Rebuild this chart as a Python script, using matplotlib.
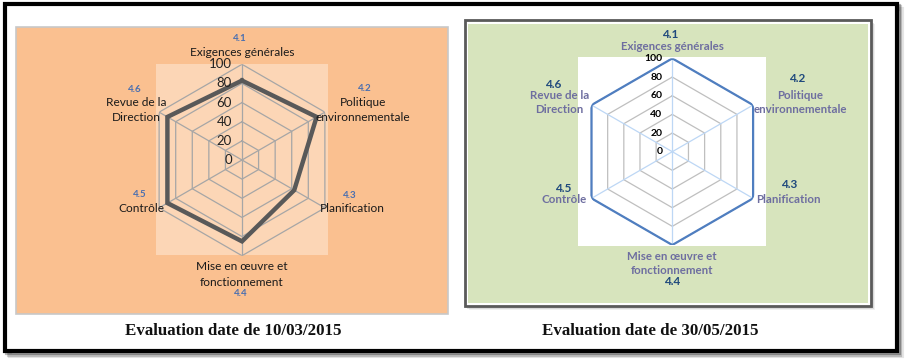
import numpy as np
import matplotlib
matplotlib.use("Agg")
import matplotlib.pyplot as plt
from matplotlib.patches import Rectangle

# data
codes = ["4.1", "4.2", "4.3", "4.4", "4.5", "4.6"]
labels = ["Exigences générales", "Politique\nenvironnementale", "Planification",
          "Mise en œuvre et\nfonctionnement", "Contrôle", "Revue de la\nDirection"]
scores_1 = [83, 90, 63, 85, 90, 90]
scores_2 = [100, 100, 100, 100, 100, 100]
rticks = [0, 20, 40, 60, 80, 100]
titles = ["Evaluation date de 10/03/2015", "Evaluation date de 30/05/2015"]

W, H = 910, 361
fig = plt.figure(figsize=(W / 100, H / 100), dpi=100)
fig.patch.set_facecolor("white")


def px_rect(x0, y0, x1, y1, **kw):
    # rectangle given in pixel coords (y from top)
    r = Rectangle((x0 / W, 1 - y1 / H), (x1 - x0) / W, (y1 - y0) / H,
                  transform=fig.transFigure, **kw)
    fig.add_artist(r)
    return r


# outer frame with shadow
for i, a in enumerate([0.10, 0.18, 0.28]):
    d = 5 - i * 1.5
    px_rect(5 + d, 3.5 + d, 896.5 + d, 351 + d, facecolor="none",
            edgecolor="#000000", alpha=a, linewidth=3, zorder=0)
px_rect(5, 3.5, 896.5, 351, facecolor="white", edgecolor="black", linewidth=3, zorder=1)

# left panel background
px_rect(15.7, 26.7, 448, 314, facecolor="#FAC090", edgecolor="#C8C8C8", linewidth=1.2, zorder=2)
px_rect(155.7, 64, 327.7, 255, facecolor="#FCD6B6", edgecolor="none", zorder=3)

# right panel background with shadow
for i, a in enumerate([0.12, 0.22]):
    d = 4 - i * 1.5
    px_rect(465 + d, 20 + d, 871.5 + d, 306 + d, facecolor="#888888",
            edgecolor="none", alpha=a, zorder=2)
px_rect(465, 20, 871.5, 306, facecolor="white", edgecolor="#5A5A5A", linewidth=2, zorder=2)
px_rect(468.5, 24, 867.5, 302.5, facecolor="#D7E4BD", edgecolor="none", zorder=3)
px_rect(577.7, 57.3, 765.7, 245.7, facecolor="white", edgecolor="none", zorder=3)

theta = np.arange(len(codes)) * 2 * np.pi / len(codes)
theta_c = np.append(theta, theta[0])


def radar(cx, cy, R, values, line_kw, grid_col, spoke_col, lab_col, code_col,
          tick_font, offs, lab_font, code_font, lsp):
    ax = fig.add_axes([(cx - R) / W, 1 - (cy + R) / H, 2 * R / W, 2 * R / H],
                      projection="polar", zorder=5)
    ax.set_theta_offset(np.pi / 2)
    ax.set_theta_direction(-1)
    ax.set_ylim(0, 100)
    ax.patch.set_visible(False)
    ax.spines["polar"].set_visible(False)
    ax.grid(False)
    ax.set_xticks([])
    ax.set_yticks([])
    # hexagonal grid
    for r in rticks[1:]:
        ax.plot(theta_c, [r] * len(theta_c), color=grid_col, lw=0.9, zorder=1)
    for t in theta:
        ax.plot([t, t], [0, 100], color=spoke_col, lw=0.9, zorder=1)
    ax.plot(theta_c, np.append(values, values[0]), zorder=3, **line_kw)
    # radial tick labels
    for r in rticks:
        ax.annotate(str(r), xy=(0, r), xytext=(-10, 0), textcoords="offset pixels",
                    ha="right", va="center", annotation_clip=False, **tick_font)
    # category labels
    for t, lab, code, o in zip(theta, labels, codes, offs):
        (lx, ly, ha), (nx, ny) = o
        ax.annotate(lab, xy=(t, 100), xytext=(lx, ly), textcoords="offset pixels",
                    ha=ha, va="center", multialignment="center", color=lab_col,
                    linespacing=lsp, annotation_clip=False, **lab_font)
        ax.annotate(code, xy=(t, 100), xytext=(nx, ny), textcoords="offset pixels",
                    ha="center", va="center", color=code_col,
                    annotation_clip=False, **code_font)
    return ax


offs_1 = [((0, 12, "center"), (-2, 26)),
          ((38, 2, "center"), (40, 24)),
          ((-5, -1, "left"), (25, 12)),
          ((0, -19, "center"), (-1, -38)),
          ((5, -1, "right"), (-19, 13)),
          ((-23, 2, "center"), (-24, 23))]
offs_2 = [((0, 12, "center"), (-2, 24)),
          ((47, 2.5, "center"), (44, 27)),
          ((3.5, -1.6, "left"), (36, 14)),
          ((0, -18.5, "center"), (0, -36.5)),
          ((-5, -1.6, "right"), (-28, 9.5)),
          ((-32, 2.5, "center"), (-38, 21))]

radar(242, 160, 95.7, scores_1,
      dict(color="#595959", lw=3.2, solid_joinstyle="miter"),
      "#A6A6A6", "#A6A6A6", "#1A1A1A", "#4A6FB0",
      dict(fontsize=9.5, family="Lato", color="#222222"), offs_1,
      dict(fontsize=8.6, family="Lato"),
      dict(fontsize=7, family="Lato", fontweight="bold"), 1.5)
radar(672.3, 151.7, 93.3, scores_2,
      dict(color="#4F7EC0", lw=1.6, solid_joinstyle="miter"),
      "#BFBFBF", "#BDD7F5", "#6E6EA0", "#1F497D",
      dict(fontsize=7.5, family="Lato", fontweight="bold", color="black"), offs_2,
      dict(fontsize=8.3, family="Lato", fontweight="bold"),
      dict(fontsize=8.5, family="Lato", fontweight="bold"), 1.3)

# captions
for x, t in zip([233, 650], titles):
    fig.text(x / W, 1 - 331 / H, t, ha="center", va="center", fontsize=12.2,
             fontweight="bold", family="Liberation Serif", color="#111111")

fig.savefig("out.png", dpi=100, facecolor="white")
